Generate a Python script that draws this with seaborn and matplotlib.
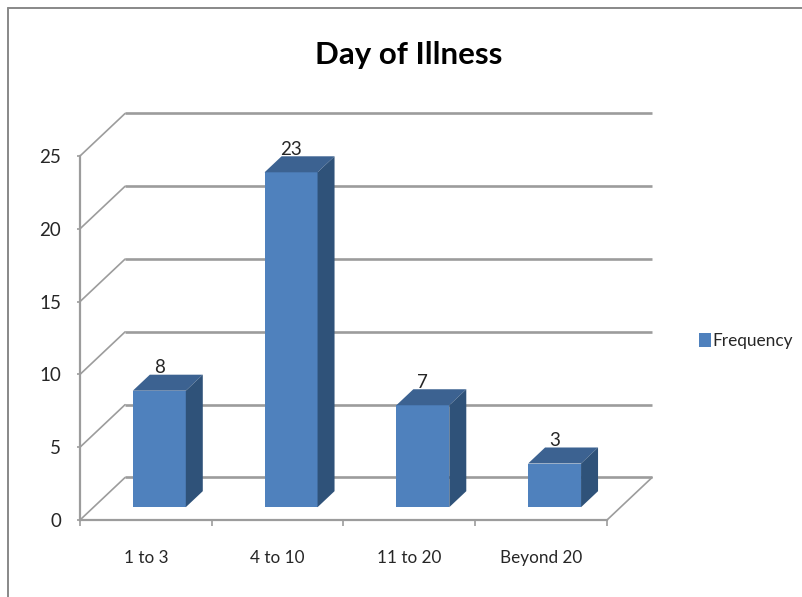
import matplotlib
matplotlib.use("Agg")
import matplotlib.pyplot as plt
import seaborn as sns
from matplotlib.lines import Line2D
from matplotlib.patches import Patch, Polygon
from matplotlib.transforms import Affine2D

categories = ["1 to 3", "4 to 10", "11 to 20", "Beyond 20"]
frequency = [8, 23, 7, 3]
y_ticks = [0, 5, 10, 15, 20, 25]

FRONT = "#4F81BD"
TOP = "#3C6291"
SIDE = "#2F5279"
GRID = "#9C9C9C"
TEXT = "#262626"

# Depth of the pseudo-3D box, in data units
WALL_DX, WALL_DY = 0.342, 2.92
BAR_DX, BAR_DY = 0.129, 1.1
SHIFT_DX, SHIFT_DY = 0.102, 0.88
BAR_WIDTH = 0.402

sns.set_style("white")
plt.rcParams["font.family"] = ["Lato", "DejaVu Sans"]

W, H = 803, 597
fig = plt.figure(figsize=(W / 100, H / 100), dpi=100)
ax = fig.add_axes([80 / W, 1 - 520 / H, 527 / W, 364 / H])
ax.patch.set_alpha(0)

sns.barplot(x=categories, y=frequency, color=FRONT, saturation=1, width=BAR_WIDTH, ax=ax, zorder=3)
ax.set_xlim(-0.5, 3.5)
ax.set_ylim(0, 25)

# Gridlines on the back wall plus the diagonals along the side wall
for tick in y_ticks:
    ax.plot([-0.5 + WALL_DX, 3.5 + WALL_DX], [tick + WALL_DY] * 2, color=GRID, lw=1.9,
            clip_on=False, zorder=1, solid_capstyle="butt")
    ax.plot([-0.5, -0.5 + WALL_DX], [tick, tick + WALL_DY], color=GRID, lw=1.2,
            clip_on=False, zorder=1)
ax.plot([3.5, 3.5 + WALL_DX], [0, WALL_DY], color=GRID, lw=1.2, clip_on=False, zorder=1)

# Push each front face onto the floor and add its top and side faces
shift = Affine2D().translate(SHIFT_DX, SHIFT_DY) + ax.transData
for bar, value in zip(ax.patches, frequency):
    bar.set_transform(shift)
    bar.set_clip_on(False)
    bar.set_edgecolor("none")
    x0, x1 = bar.get_x(), bar.get_x() + bar.get_width()
    ax.add_patch(Polygon([(x0, value), (x1, value), (x1 + BAR_DX, value + BAR_DY), (x0 + BAR_DX, value + BAR_DY)],
                         closed=True, fc=TOP, ec="none", transform=shift, clip_on=False, zorder=3))
    ax.add_patch(Polygon([(x1, 0), (x1 + BAR_DX, BAR_DY), (x1 + BAR_DX, value + BAR_DY), (x1, value)],
                         closed=True, fc=SIDE, ec="none", transform=shift, clip_on=False, zorder=3))
    ax.text((x0 + x1) / 2, value + BAR_DY - 0.12, str(value), transform=shift, ha="center", va="bottom",
            fontsize=13.5, color=TEXT, zorder=5)

ax.set_yticks(y_ticks)
ax.set_xticks(range(len(categories)))
ax.set_xticklabels(categories)
ax.set_xticks([-0.5, 0.5, 1.5, 2.5, 3.5], minor=True)
ax.tick_params(axis="y", left=True, length=2.5, width=1.2, color=GRID, labelsize=13.5, labelcolor=TEXT, pad=11)
ax.tick_params(axis="x", which="major", bottom=False, labelsize=12.3, labelcolor=TEXT, pad=18)
ax.tick_params(axis="x", which="minor", bottom=True, length=4.5, width=1.2, color=GRID)
ax.set_xlabel("")

for name, spine in ax.spines.items():
    spine.set_visible(name in ("left", "bottom"))
    spine.set_color(GRID)
    spine.set_linewidth(1.6)

fig.text(409 / W, 1 - 55 / H, "Day of Illness", ha="center", va="center",
         fontsize=22.5, fontweight="bold", color="black")

handle = Patch(facecolor=FRONT, edgecolor="none", label="Frequency")
fig.legend(handles=[handle], loc="center left", bbox_to_anchor=(699 / W, 1 - 341 / H), frameon=False,
           fontsize=12.4, handlelength=0.7, handleheight=0.9, handletextpad=0.05, borderpad=0,
           borderaxespad=0, labelcolor=TEXT)

# Chart frame, top and left edges only
fig.add_artist(Line2D([8 / W, 1], [1 - 8 / H] * 2, color="#888888", lw=1.4, transform=fig.transFigure))
fig.add_artist(Line2D([8 / W, 8 / W], [0, 1 - 8 / H], color="#888888", lw=1.4, transform=fig.transFigure))

fig.savefig("out.png", dpi=100, facecolor="white")
